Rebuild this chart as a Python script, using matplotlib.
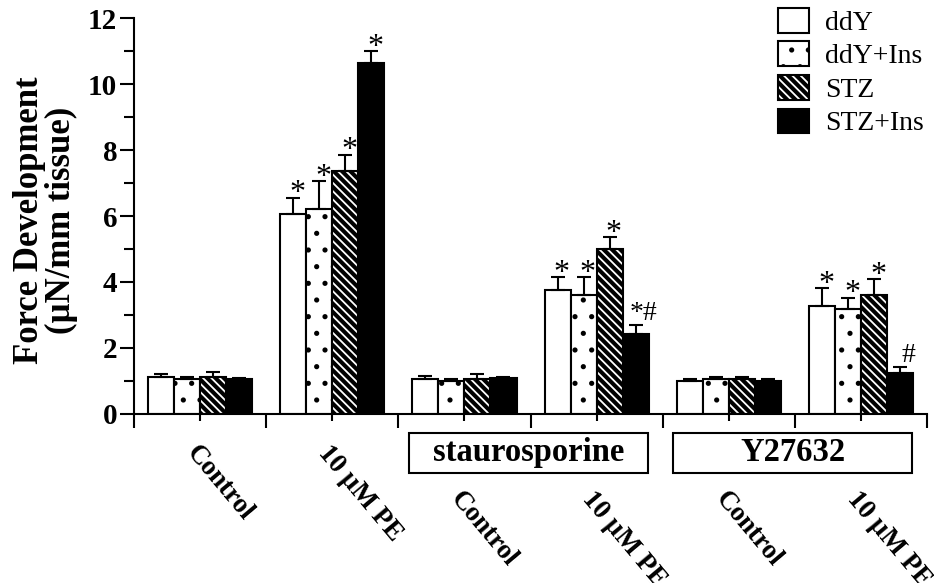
import matplotlib
matplotlib.use('Agg')
import matplotlib.pyplot as plt
import numpy as np
from matplotlib.patches import Patch, Rectangle

plt.rcParams['font.family'] = ['Liberation Serif', 'DejaVu Serif']
plt.rcParams['hatch.linewidth'] = 1.3

# data
conditions = ['Control', '10 µM PE', 'Control', '10 µM PE', 'Control', '10 µM PE']
treatments = ['staurosporine', 'Y27632']
series = ['ddY', 'ddY+Ins', 'STZ', 'STZ+Ins']

ddy = [1.13, 6.05, 1.07, 3.75, 1.00, 3.26]
ddy_ins = [1.05, 6.20, 1.00, 3.60, 1.06, 3.18]
stz = [1.12, 7.35, 1.06, 5.00, 1.06, 3.61]
stz_ins = [1.07, 10.65, 1.08, 2.42, 1.01, 1.23]

ddy_err = [0.08, 0.50, 0.07, 0.40, 0.06, 0.55]
ddy_ins_err = [0.08, 0.85, 0.07, 0.55, 0.07, 0.34]
stz_err = [0.14, 0.50, 0.14, 0.35, 0.07, 0.47]
stz_ins_err = [0.02, 0.35, 0.05, 0.27, 0.05, 0.18]

ddy_marks = ['', '*', '', '*', '', '*']
ddy_ins_marks = ['', '*', '', '*', '', '*']
stz_marks = ['', '*', '', '*', '', '*']
stz_ins_marks = ['', '*', '', '*#', '', '#']

values = [ddy, ddy_ins, stz, stz_ins]
errors = [ddy_err, ddy_ins_err, stz_err, stz_ins_err]
marks = [ddy_marks, ddy_ins_marks, stz_marks, stz_ins_marks]

fig = plt.figure(figsize=(9.34, 5.83), dpi=100)
ax = fig.add_axes([0.1435, 0.290, 0.849, 0.679])

x = np.arange(len(conditions))
w = 0.197
handles = []
for i in range(4):
    pos = x + (i - 1.5) * w
    vals = values[i]
    if i == 0:
        ax.bar(pos, vals, w, color='white', edgecolor='black', linewidth=1.5, zorder=2)
        h = Patch(facecolor='white', edgecolor='black', linewidth=1.5)
    elif i == 1:
        ax.bar(pos, vals, w, color='white', edgecolor='black', hatch='.', linewidth=1.5, zorder=2)
        h = Patch(facecolor='white', edgecolor='black', hatch='.', linewidth=1.5)
    elif i == 2:
        ax.bar(pos, vals, w, color='black', edgecolor='white', hatch='\\\\\\\\', linewidth=0, zorder=2)
        ax.bar(pos, vals, w, fill=False, edgecolor='black', linewidth=1.5, zorder=2)
        h = (Patch(facecolor='black', edgecolor='white', hatch='\\\\\\\\', linewidth=0),
             Patch(fill=False, edgecolor='black', linewidth=1.5))
    else:
        ax.bar(pos, vals, w, color='black', edgecolor='black', linewidth=1.5, zorder=2)
        h = Patch(facecolor='black', edgecolor='black', linewidth=1.5)
    handles.append(h)
    ax.errorbar(pos, vals, yerr=[np.zeros(len(vals)), errors[i]], fmt='none',
                ecolor='black', elinewidth=1.5, capsize=5, capthick=1.5, zorder=3)
    for p, v, e, m in zip(pos, vals, errors[i], marks[i]):
        if not m:
            continue
        if m == '#':
            ax.annotate(m, (p, v + e), xytext=(1, 4), textcoords='offset points',
                        ha='left', va='baseline', fontsize=20)
        elif '#' in m:
            ax.annotate(m, (p, v + e), xytext=(-4, 4), textcoords='offset points',
                        ha='left', va='baseline', fontsize=20)
        else:
            ax.annotate(m, (p, v + e), xytext=(3, -2.5), textcoords='offset points',
                        ha='center', va='baseline', fontsize=23)

ax.set_xlim(-0.5, 5.5)
ax.set_ylim(0, 12)
ax.spines['top'].set_visible(False)
ax.spines['right'].set_visible(False)
ax.spines['left'].set_linewidth(1.5)
ax.spines['bottom'].set_linewidth(1.5)

ax.set_yticks(np.arange(0, 13, 2))
ax.set_yticks(np.arange(1, 12, 2), minor=True)
ax.set_xticks(np.arange(-0.5, 6, 1))
ax.set_xticks(x, minor=True)
ax.set_xticklabels([])
ax.tick_params(axis='y', which='major', length=10, width=1.5, pad=2, labelsize=21)
ax.tick_params(axis='y', which='minor', length=7, width=1.5)
ax.tick_params(axis='x', which='major', length=10, width=1.5)
ax.tick_params(axis='x', which='minor', length=5, width=1.5)
for lab in ax.get_yticklabels():
    lab.set_fontweight('bold')

ax.set_ylabel('Force Development\n(µN/mm tissue)', fontsize=25, fontweight='bold',
              linespacing=0.95)
ax.yaxis.set_label_coords(-0.0706, 0.49)

# condition labels under the axis
tr = ax.get_xaxis_transform()
for xi, c in zip(x, conditions):
    yy = -0.068 if xi < 2 else -0.184
    ax.text(xi, yy, c, transform=tr, rotation=-50, rotation_mode='anchor',
            ha='left', va='top', fontsize=19.5, fontweight='bold')

# treatment boxes
for k, t in enumerate(treatments):
    left = 1.58 + 2 * k
    ax.add_patch(Rectangle((left, -0.149), 1.81, 0.101, transform=tr, fill=False,
                           edgecolor='black', linewidth=1.5, clip_on=False))
    ax.text(left + 0.905, -0.0985, t, transform=tr, ha='center', va='center',
            fontsize=23.5, fontweight='bold')

ax.legend(handles, series, loc='upper left', bbox_to_anchor=(778 / 934, 1 - 8 / 583),
          bbox_transform=fig.transFigure, frameon=False, fontsize=20, borderpad=0,
          borderaxespad=0, handlelength=1.1, handleheight=1.0, labelspacing=0.2,
          handletextpad=0.6)

fig.savefig('out.png', dpi=100)
